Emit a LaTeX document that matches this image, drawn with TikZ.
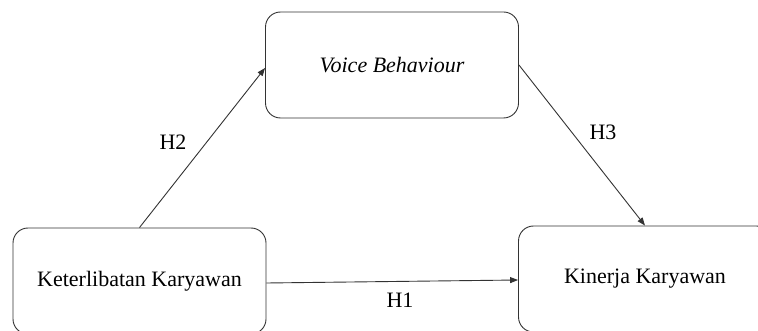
\documentclass[tikz,border=0pt]{standalone}
\usepackage{fontspec}
\setmainfont{Liberation Serif}
\usetikzlibrary{arrows.meta}
\tikzset{
  box/.style={draw=black!80, line width=0.9pt, rounded corners=15pt, minimum width=253pt, minimum height=106pt, inner sep=0pt, font=\fontsize{22}{26}\selectfont, text=black},
  link/.style={draw=black!80, line width=0.9pt, -{Triangle[length=8pt,width=6pt]}},
  lbl/.style={font=\fontsize{22}{26}\selectfont, text=black, inner sep=0pt}
}
\begin{document}
\begin{tikzpicture}[x=1pt, y=-1pt]
\useasboundingbox (0,0) rectangle (758,331);
\clip (0,0) rectangle (758,331);
\fill[white] (0,0) rectangle (758,331);
\node[box] (kk) at (139.5,281) {Keterlibatan Karyawan};
\node[box] (vb) at (392,65) {\itshape Voice Behaviour};
\node[box] (kin) at (645,279) {Kinerja Karyawan};
\draw[link] (kk.north) -- ([yshift=-3pt]vb.west);
\draw[link] (vb.east) -- (kin.north);
\draw[link] ([yshift=-2pt]kk.east) -- ([yshift=-1pt]kin.west);
\node[lbl] (h2) at (173,142) {H2};
\node[lbl] (h3) at (603,132) {H3};
\node[lbl] (h1) at (400,300) {H1};
\end{tikzpicture}
\end{document}
